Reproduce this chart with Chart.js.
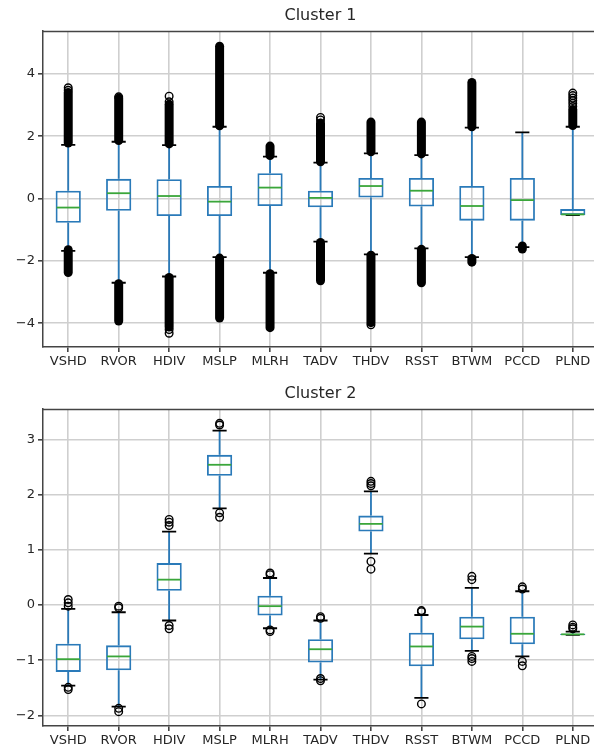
<!DOCTYPE html>
<html>
<head>
<meta charset="utf-8">
<script src="https://cdn.jsdelivr.net/npm/chart.js@4.4.1/dist/chart.umd.min.js"></script>
<style>
  html, body { margin: 0; padding: 0; background: #fff; overflow: hidden; }
  #wrap { position: relative; width: 600px; height: 752px; }
  canvas { position: absolute; left: 0; }
</style>
</head>
<body>
<div id="wrap">
  <canvas id="c1" width="600" height="375" style="top:0"></canvas>
  <canvas id="c2" width="600" height="377" style="top:375px"></canvas>
</div>
<script>
const categories = ['VSHD', 'RVOR', 'HDIV', 'MSLP', 'MLRH', 'TADV', 'THDV', 'RSST', 'BTWM', 'PCCD', 'PLND'];

// Cluster 1
const c1Q1 = [-0.78, -0.39, -0.56, -0.56, -0.24, -0.28, 0.03, -0.26, -0.71, -0.71, -0.53];
const c1Q3 = [0.25, 0.63, 0.62, 0.40, 0.81, 0.25, 0.66, 0.66, 0.40, 0.66, -0.34];
const c1Med = [-0.29, 0.17, 0.08, -0.10, 0.35, 0.02, 0.40, 0.25, -0.24, -0.05, -0.51];
const c1WhiskLo = [-1.68, -2.70, -2.50, -1.88, -2.38, -1.38, -1.79, -1.60, -1.88, -1.56, -0.53];
const c1WhiskHi = [1.72, 1.82, 1.71, 2.30, 1.34, 1.15, 1.45, 1.39, 2.27, 2.12, 2.30];
// dense runs of outliers: [from, to]
const c1BandHi = [[1.78, 3.40], [1.86, 3.22], [1.75, 3.02], [2.33, 4.88], [1.38, 1.68], [1.18, 2.42], [1.50, 2.45], [1.43, 2.45], [2.30, 3.72], null, [2.34, 2.85]];
const c1BandLo = [[-2.37, -1.64], [-3.93, -2.73], [-4.12, -2.53], [-3.83, -1.91], [-4.14, -2.41], [-2.64, -1.41], [-3.98, -1.82], [-2.70, -1.63], [-2.04, -1.92], [-1.62, -1.52], null];
const c1PointsHi = [[3.47, 3.55], [3.26], [3.10, 3.28], [], [], [2.52, 2.60], [], [], [], [], [2.95, 3.05, 3.14, 3.22, 3.30, 3.38]];
const c1PointsLo = [[], [], [-4.20, -4.32], [], [], [], [-4.05], [], [], [], []];

// Cluster 2
const c2Q1 = [-1.21, -1.18, 0.26, 2.34, -0.19, -1.04, 1.33, -1.11, -0.62, -0.71, -0.54];
const c2Q3 = [-0.70, -0.73, 0.76, 2.72, 0.17, -0.62, 1.62, -0.50, -0.21, -0.21, -0.52];
const c2Med = [-0.98, -0.93, 0.46, 2.54, -0.02, -0.80, 1.47, -0.75, -0.39, -0.52, -0.53];
const c2WhiskLo = [-1.46, -1.84, -0.28, 1.75, -0.42, -1.35, 0.93, -1.68, -0.83, -0.93, -0.54];
const c2WhiskHi = [-0.07, -0.13, 1.33, 3.16, 0.49, -0.28, 2.06, -0.18, 0.31, 0.25, -0.48];
const c2PointsHi = [[-0.02, 0.04, 0.10], [-0.02, -0.05], [1.44, 1.50, 1.55], [3.26, 3.29], [0.55, 0.58], [-0.21, -0.24], [2.16, 2.20, 2.24], [-0.10, -0.12], [0.46, 0.52], [0.29, 0.33], [-0.36, -0.40, -0.43]];
const c2PointsLo = [[-1.49, -1.53], [-1.87, -1.93], [-0.37, -0.43], [1.67, 1.59], [-0.45, -0.48], [-1.33, -1.37], [0.79, 0.65], [-1.79], [-0.93, -0.97, -1.02], [-1.02, -1.10], []];

const BLUE = '#2a7ab9';
const GREEN = '#3aa63a';
const GRID = '#cfcfcf';
const AXIS = '#444';
const TEXT = '#262626';
const FONT = 'DejaVu Sans';
const LW = 1.8;

// whiskers, caps, medians and outliers drawn on the chart's own scales
const boxExtras = {
  id: 'boxExtras',
  afterDatasetsDraw(chart, args, opts) {
    const { ctx, chartArea: a, scales: { x, y } } = chart;
    const s = opts.stats;
    const catW = x.getPixelForValue(1) - x.getPixelForValue(0);
    const capHalf = catW * 0.14;
    const boxHalf = catW * 0.25;
    ctx.save();
    ctx.beginPath();
    ctx.rect(a.left, a.top, a.right - a.left, a.bottom - a.top);
    ctx.clip();
    categories.forEach((_, i) => {
      const px = x.getPixelForValue(i);
      // whiskers
      ctx.strokeStyle = BLUE;
      ctx.lineWidth = LW;
      ctx.beginPath();
      ctx.moveTo(px, y.getPixelForValue(s.q3[i]));
      ctx.lineTo(px, y.getPixelForValue(s.hi[i]));
      ctx.moveTo(px, y.getPixelForValue(s.q1[i]));
      ctx.lineTo(px, y.getPixelForValue(s.lo[i]));
      ctx.stroke();
      // caps
      ctx.strokeStyle = '#000';
      ctx.beginPath();
      [s.hi[i], s.lo[i]].forEach(v => {
        const py = y.getPixelForValue(v);
        ctx.moveTo(px - capHalf, py);
        ctx.lineTo(px + capHalf, py);
      });
      ctx.stroke();
      // median
      ctx.strokeStyle = GREEN;
      ctx.beginPath();
      const my = y.getPixelForValue(s.med[i]);
      ctx.moveTo(px - boxHalf + 1, my);
      ctx.lineTo(px + boxHalf - 1, my);
      ctx.stroke();
      // dense outlier runs
      ctx.strokeStyle = '#000';
      ctx.lineCap = 'round';
      ctx.lineWidth = 9;
      [s.bandHi && s.bandHi[i], s.bandLo && s.bandLo[i]].forEach(b => {
        if (!b) return;
        ctx.beginPath();
        ctx.moveTo(px, y.getPixelForValue(b[0]));
        ctx.lineTo(px, y.getPixelForValue(b[1]));
        ctx.stroke();
      });
      ctx.lineCap = 'butt';
      // single outliers
      ctx.lineWidth = 1.4;
      s.ptsHi[i].concat(s.ptsLo[i]).forEach(v => {
        ctx.beginPath();
        ctx.arc(px, y.getPixelForValue(v), 3.8, 0, Math.PI * 2);
        ctx.stroke();
      });
    });
    ctx.restore();
  },
  afterDraw(chart, args, opts) {
    const { ctx, chartArea: a } = chart;
    ctx.save();
    ctx.strokeStyle = AXIS;
    ctx.lineWidth = 1.5;
    ctx.beginPath();
    ctx.moveTo(a.left, a.top + 0.5);
    ctx.lineTo(a.right, a.top + 0.5);
    ctx.moveTo(a.right - 0.5, a.top);
    ctx.lineTo(a.right - 0.5, a.bottom);
    ctx.stroke();
    ctx.fillStyle = TEXT;
    ctx.font = '16px "' + FONT + '"';
    ctx.textAlign = 'center';
    ctx.textBaseline = 'middle';
    ctx.fillText(opts.title, (a.left + a.right) / 2, a.top - 15);
    ctx.restore();
  }
};

function fmt(v) {
  return v < 0 ? '\u2212' + Math.abs(v) : String(v);
}

function makeBoxChart(id, title, stats, yMin, yMax, step, padTop, axisH) {
  return new Chart(document.getElementById(id), {
    type: 'bar',
    data: {
      labels: categories,
      datasets: [{
        data: categories.map((_, i) => [stats.q1[i], stats.q3[i]]),
        backgroundColor: 'rgba(0,0,0,0)',
        borderColor: BLUE,
        borderWidth: LW,
        borderSkipped: false,
        barPercentage: 0.5,
        categoryPercentage: 1.0,
      }],
    },
    options: {
      responsive: false,
      animation: false,
      devicePixelRatio: 1,
      layout: { padding: { top: padTop, right: 2, left: 0, bottom: 0 } },
      plugins: {
        legend: { display: false },
        tooltip: { enabled: false },
        boxExtras: { title: title, stats: stats },
      },
      scales: {
        x: {
          offset: true,
          grid: { offset: false, color: GRID, lineWidth: 1.6, tickColor: AXIS, tickLength: 5 },
          border: { color: AXIS, width: 1.5 },
          ticks: { font: { family: FONT, size: 13 }, color: TEXT, padding: 2, maxRotation: 0, autoSkip: false },
          afterFit: (s) => { s.height = axisH; },
        },
        y: {
          min: yMin,
          max: yMax,
          grid: { color: GRID, lineWidth: 1.6, tickColor: AXIS, tickLength: 5 },
          border: { color: AXIS, width: 1.5 },
          ticks: { stepSize: step, includeBounds: false, callback: fmt, font: { family: FONT, size: 13 }, color: TEXT, padding: 3 },
          afterFit: (s) => { s.width = 43; },
        },
      },
    },
    plugins: [boxExtras],
  });
}

makeBoxChart('c1', 'Cluster 1', {
  q1: c1Q1, q3: c1Q3, med: c1Med, lo: c1WhiskLo, hi: c1WhiskHi,
  bandHi: c1BandHi, bandLo: c1BandLo, ptsHi: c1PointsHi, ptsLo: c1PointsLo,
}, -4.76, 5.37, 2, 31, 28);

makeBoxChart('c2', 'Cluster 2', {
  q1: c2Q1, q3: c2Q3, med: c2Med, lo: c2WhiskLo, hi: c2WhiskHi,
  bandHi: null, bandLo: null, ptsHi: c2PointsHi, ptsLo: c2PointsLo,
}, -2.19, 3.55, 1, 34, 26);
</script>
</body>
</html>
